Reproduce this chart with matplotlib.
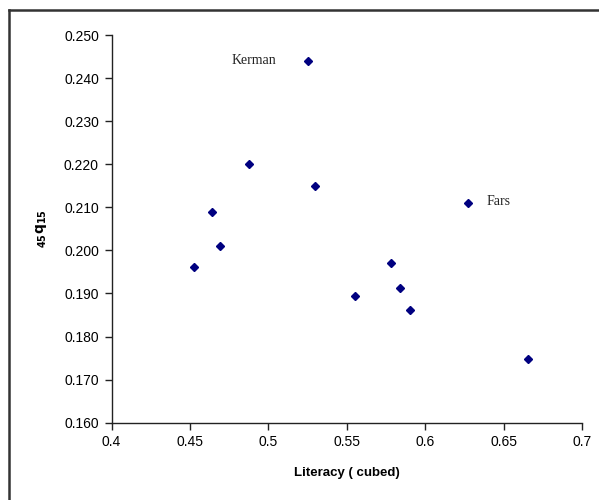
import matplotlib.pyplot as plt
from matplotlib.lines import Line2D

# Literacy (cubed) against adult mortality 45q15, by province
literacy = [0.4528, 0.4641, 0.4690, 0.4874, 0.5254, 0.5297,
            0.5552, 0.5783, 0.5839, 0.5902, 0.6274, 0.6657]
q45_15 = [0.1962, 0.2090, 0.2011, 0.2200, 0.2440, 0.2149,
          0.1894, 0.1971, 0.1912, 0.1862, 0.2110, 0.1747]

# named provinces: (name, index into the arrays)
named = [("Kerman", 4), ("Fars", 10)]

x_ticks = [0.4, 0.45, 0.5, 0.55, 0.6, 0.65, 0.7]
y_ticks = [0.160, 0.170, 0.180, 0.190, 0.200, 0.210, 0.220, 0.230, 0.240, 0.250]

plt.rcParams['font.family'] = ['Liberation Sans', 'DejaVu Sans']

fig = plt.figure(figsize=(5.99, 5.0), dpi=100)
ax = fig.add_axes([111.5 / 599, 1 - 422.7 / 500, (582.3 - 111.5) / 599, (422.7 - 35) / 500])

ax.plot(literacy, q45_15, linestyle='none', marker='D', markersize=4.2,
        color='#000080', markeredgecolor='#000080')

for name, i in named:
    if name == "Kerman":
        ax.annotate(name, (literacy[i], q45_15[i]), xytext=(-23, 0),
                    textcoords='offset points', ha='right', va='center',
                    family='Liberation Serif', fontsize=10, color='#222222')
    else:
        ax.annotate(name, (literacy[i], q45_15[i]), xytext=(13, 1),
                    textcoords='offset points', ha='left', va='center',
                    family='Liberation Serif', fontsize=10, color='#222222')

ax.set_xlim(0.4, 0.7)
ax.set_ylim(0.160, 0.250)
ax.set_xticks(x_ticks)
ax.set_xticklabels([f"{v:g}" for v in x_ticks])
ax.set_yticks(y_ticks)
ax.set_yticklabels([f"{v:.3f}" for v in y_ticks])
ax.tick_params(direction='out', length=5, width=1, labelsize=10, pad=4, color='#222222')

for side in ('top', 'right'):
    ax.spines[side].set_visible(False)
for side in ('left', 'bottom'):
    ax.spines[side].set_color('#222222')
    ax.spines[side].set_linewidth(1)

ax.set_xlabel("Literacy ( cubed)", fontsize=9.5, fontweight='bold', labelpad=13)
ax.set_ylabel(r"$\mathbf{_{45}q_{15}}$", fontsize=10, labelpad=11)

# frame line along the top and left edges of the figure
fig.add_artist(Line2D([9 / 599, 1], [1 - 10 / 500, 1 - 10 / 500],
                      transform=fig.transFigure, color='#333333', linewidth=1.8))
fig.add_artist(Line2D([9 / 599, 9 / 599], [0, 1 - 10 / 500],
                      transform=fig.transFigure, color='#333333', linewidth=1.8))

fig.savefig("out.png", dpi=100)
